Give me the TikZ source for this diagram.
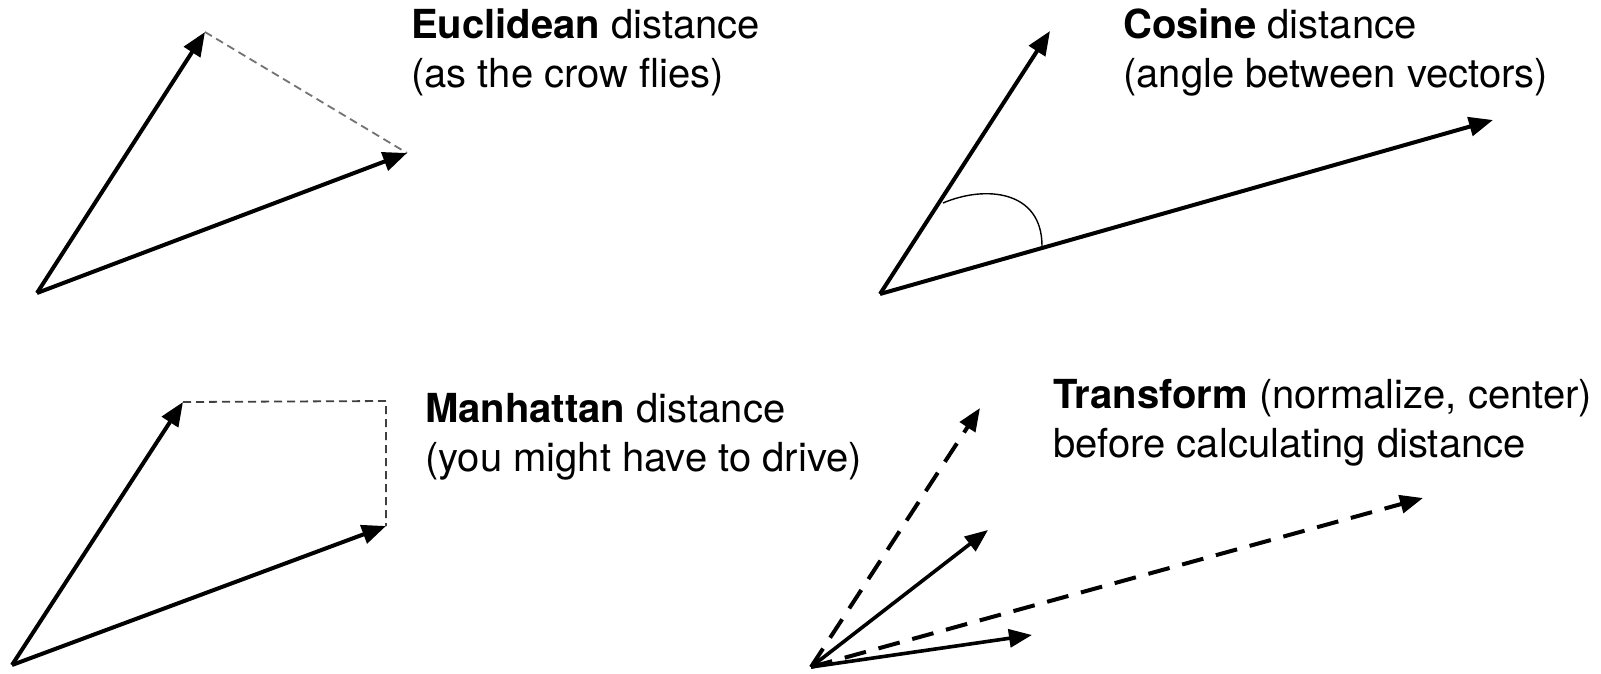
\documentclass[tikz,border=0pt]{standalone}
\usepackage{fontspec}
\setmainfont{TeX Gyre Heros}
\usetikzlibrary{arrows.meta}
\tikzset{
  vec/.style={line width=4pt, -{Triangle[length=24pt,width=19pt]}},
  tvec/.style={line width=3.6pt, -{Triangle[length=23pt,width=18pt]}},
  dvec/.style={line width=4pt, dash pattern=on 22pt off 13pt, -{Triangle[length=23pt,width=18pt]}},
  thindash/.style={line width=1.8pt, dash pattern=on 8pt off 5pt},
  lbl/.style={anchor=base west, inner sep=0pt, align=left, font=\fontsize{40}{49}\selectfont}
}
\begin{document}
\begin{tikzpicture}[x=1pt,y=-1pt]
\useasboundingbox[fill=white] (0,0) rectangle (1601,673);
% Euclidean
\coordinate (o1) at (37,293);
\coordinate (a1) at (205,32);
\coordinate (b1) at (407,153);
\draw[thindash, black!55] (a1) -- (b1);
\draw[vec] (o1) -- (a1);
\draw[vec] (o1) -- (b1);
\node[lbl] (t1) at (411,87) {\textbf{Euclidean} distance\\(as the crow flies)};
% Cosine
\coordinate (o2) at (880,294);
\coordinate (a2) at (1050,31);
\coordinate (b2) at (1493,120);
\coordinate (c1) at (943,203);
\coordinate (c2) at (1042,246);
\draw[line width=1.4pt] (c1) .. controls (985,185) and (1042,190) .. (c2);
\draw[vec] (o2) -- (a2);
\draw[vec] (o2) -- (b2);
\node[lbl] (t2) at (1123,87) {\textbf{Cosine} distance\\(angle between vectors)};
% Manhattan
\coordinate (o3) at (12,665);
\coordinate (a3) at (183,402);
\coordinate (b3) at (386,526);
\coordinate (m3) at (386,401);
\draw[thindash, black!75] (a3) -- (m3) -- (b3);
\draw[vec] (o3) -- (a3);
\draw[vec] (o3) -- (b3);
\node[lbl] (t3) at (425,471) {\textbf{Manhattan} distance\\(you might have to drive)};
% Transform
\coordinate (o4) at (811,667);
\coordinate (d1) at (980,408);
\coordinate (s1) at (988,530);
\coordinate (d2) at (1423,498);
\coordinate (s2) at (1032,635);
\draw[dvec] (o4) -- (d1);
\draw[dvec] (o4) -- (d2);
\draw[tvec] (o4) -- (s1);
\draw[tvec] (o4) -- (s2);
\node[lbl] (t4) at (1053,457) {\textbf{Transform} (normalize, center)\\before calculating distance};
\end{tikzpicture}
\end{document}
